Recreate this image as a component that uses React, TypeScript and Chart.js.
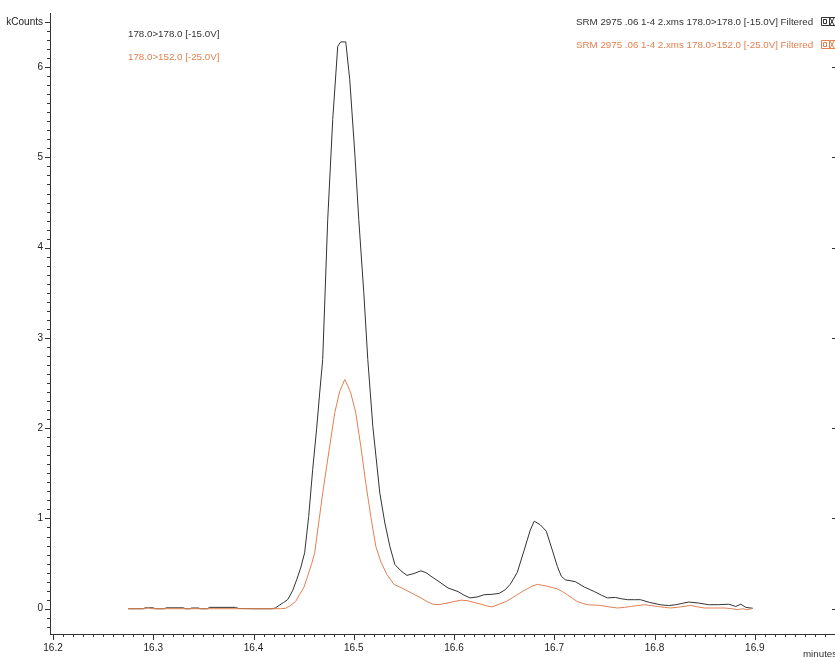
import { useEffect, useRef } from "react"
import { Chart, registerables } from "chart.js"

Chart.register(...registerables)

// 178.0>178.0 [-15.0V] trace (minutes, kCounts)
const quantTime = [
  16.275, 16.29, 16.292, 16.3, 16.302, 16.311, 16.313, 16.33, 16.332, 16.337, 16.338, 16.345, 16.347,
  16.354, 16.356, 16.382, 16.385, 16.4, 16.419, 16.422, 16.426, 16.43, 16.434, 16.439, 16.443, 16.447,
  16.451, 16.455, 16.459, 16.463, 16.466, 16.469, 16.474, 16.479, 16.484, 16.487, 16.492, 16.496, 16.501,
  16.505, 16.51, 16.514, 16.519, 16.526, 16.531, 16.536, 16.541, 16.547, 16.553, 16.56, 16.567, 16.572,
  16.577, 16.585, 16.594, 16.604, 16.61, 16.616, 16.623, 16.63, 16.638, 16.645, 16.651, 16.656, 16.663,
  16.67, 16.676, 16.68, 16.686, 16.692, 16.698, 16.703, 16.707, 16.711, 16.721, 16.73, 16.74, 16.747,
  16.753, 16.761, 16.767, 16.773, 16.78, 16.786, 16.795, 16.806, 16.814, 16.821, 16.828, 16.834, 16.844,
  16.854, 16.864, 16.874, 16.881, 16.886, 16.891, 16.898,
]
const quantCounts = [
  0, 0, 0.01, 0.01, 0, 0, 0.01, 0.01, 0, 0, 0.008, 0.008, 0,
  0, 0.015, 0.015, 0.003, 0, 0, 0.01, 0.04, 0.07, 0.1, 0.2, 0.32, 0.45,
  0.62, 1.02, 1.54, 2.0, 2.39, 2.76, 4.31, 5.42, 6.23, 6.28, 6.28, 5.86, 5.05,
  4.31, 3.5, 2.76, 2.02, 1.28, 0.95, 0.69, 0.49, 0.42, 0.37, 0.39, 0.42, 0.4,
  0.36, 0.3, 0.23, 0.19, 0.15, 0.12, 0.13, 0.155, 0.16, 0.17, 0.21, 0.27, 0.4,
  0.65, 0.87, 0.97, 0.93, 0.86, 0.65, 0.47, 0.36, 0.32, 0.3, 0.24, 0.19, 0.15,
  0.12, 0.125, 0.11, 0.1, 0.1, 0.1, 0.07, 0.044, 0.035, 0.044, 0.06, 0.074, 0.063,
  0.044, 0.045, 0.05, 0.025, 0.05, 0.015, 0.005,
]

// 178.0>152.0 [-25.0V] trace
const qualTime = [
  16.275, 16.292, 16.295, 16.298, 16.32, 16.36, 16.4, 16.427, 16.432, 16.436, 16.442, 16.446, 16.45,
  16.454, 16.458, 16.461, 16.465, 16.469, 16.473, 16.476, 16.481, 16.486, 16.491, 16.494, 16.497, 16.502,
  16.507, 16.512, 16.517, 16.522, 16.527, 16.533, 16.54, 16.547, 16.553, 16.56, 16.567, 16.573, 16.579,
  16.585, 16.592, 16.6, 16.607, 16.613, 16.62, 16.627, 16.633, 16.638, 16.645, 16.652, 16.658, 16.663,
  16.668, 16.673, 16.678, 16.683, 16.688, 16.693, 16.698, 16.703, 16.708, 16.713, 16.718, 16.723, 16.728,
  16.733, 16.74, 16.746, 16.755, 16.763, 16.77, 16.776, 16.783, 16.79, 16.797, 16.803, 16.81, 16.816,
  16.826, 16.836, 16.843, 16.85, 16.86, 16.87, 16.877, 16.883, 16.888, 16.892, 16.897,
]
const qualCounts = [
  0, 0, 0.012, 0, 0, 0, 0, 0, 0.005, 0.03, 0.08, 0.16, 0.23,
  0.36, 0.5, 0.62, 0.95, 1.28, 1.58, 1.8, 2.17, 2.41, 2.54, 2.47, 2.39, 2.17,
  1.8, 1.39, 1.02, 0.69, 0.52, 0.38, 0.27, 0.235, 0.2, 0.16, 0.12, 0.08, 0.05,
  0.045, 0.06, 0.08, 0.095, 0.09, 0.07, 0.05, 0.03, 0.02, 0.05, 0.08, 0.12, 0.155,
  0.19, 0.22, 0.25, 0.27, 0.26, 0.25, 0.235, 0.22, 0.19, 0.155, 0.115, 0.08, 0.06,
  0.044, 0.04, 0.037, 0.02, 0.008, 0.015, 0.025, 0.035, 0.044, 0.035, 0.025, 0.015, 0.008,
  0.02, 0.037, 0.02, 0.008, 0.008, 0.008, 0, -0.01, 0, -0.01, 0,
]

const traceLabels = ["178.0>178.0 [-15.0V]", "178.0>152.0 [-25.0V]"]
const fileLabels = [
  "SRM 2975 .06 1-4 2.xms 178.0>178.0 [-15.0V] Filtered",
  "SRM 2975 .06 1-4 2.xms 178.0>152.0 [-25.0V] Filtered",
]

const DARK = "#333333"
const ORANGE = "rgb(226,128,82)"
const FONT = "'Liberation Sans', Arial, sans-serif"

const isStep = (v: number, step: number) => Math.abs(v / step - Math.round(v / step)) < 1e-6

const decorations = {
  id: "decorations",
  afterDraw(chart: any) {
    const { ctx, chartArea, scales } = chart
    const x = scales.x
    const y = scales.y
    ctx.save()
    ctx.strokeStyle = DARK
    ctx.lineWidth = 1
    ctx.beginPath()
    // x ticks, minor every 0.01, major every 0.1
    x.ticks.forEach((t: any) => {
      const px = Math.round(x.getPixelForValue(t.value)) + 0.5
      const len = isStep(t.value, 0.1) ? 6 : 3
      ctx.moveTo(px, chartArea.bottom)
      ctx.lineTo(px, chartArea.bottom + len)
    })
    // y ticks, minor every 0.1
    y.ticks.forEach((t: any) => {
      if (t.value > 6.55) return
      const py = Math.round(y.getPixelForValue(t.value)) + 0.5
      const major = isStep(t.value, 1) || Math.abs(t.value - 6.5) < 1e-6
      ctx.moveTo(chartArea.left, py)
      ctx.lineTo(chartArea.left - (major ? 5 : 3), py)
      if (isStep(t.value, 1)) {
        ctx.moveTo(chartArea.right - 3, py)
        ctx.lineTo(chartArea.right, py)
      }
    })
    ctx.stroke()

    ctx.font = `9.75px ${FONT}`
    ctx.textBaseline = "middle"
    ctx.textAlign = "left"
    ctx.fillStyle = DARK
    ctx.fillText(traceLabels[0], 128, 34)
    ctx.fillText(fileLabels[0], 576, 22)
    ctx.fillText("minutes", 803, 654)
    ctx.fillStyle = ORANGE
    ctx.fillText(traceLabels[1], 128, 57)
    ctx.fillText(fileLabels[1], 576, 45)

    // little box icons after the file labels
    const icon = (top: number, color: string) => {
      ctx.strokeStyle = color
      ctx.beginPath()
      ctx.rect(821.5, top + 0.5, 8, 8)
      ctx.rect(823.5, top + 2.5, 3, 4)
      ctx.moveTo(829.5, top + 0.5)
      ctx.lineTo(835, top + 0.5)
      ctx.moveTo(829.5, top + 8.5)
      ctx.lineTo(835, top + 8.5)
      ctx.moveTo(830, top + 1)
      ctx.lineTo(834, top + 8)
      ctx.moveTo(834, top + 1)
      ctx.lineTo(830, top + 8)
      ctx.stroke()
    }
    icon(17, DARK)
    icon(40, ORANGE)
    ctx.restore()
  },
}

export default function App() {
  const chartRef = useRef<HTMLCanvasElement>(null)
  const chartInstance = useRef<Chart | null>(null)

  useEffect(() => {
    if (!chartRef.current) return

    if (chartInstance.current) {
      chartInstance.current.destroy()
    }

    Chart.defaults.font.family = FONT

    chartInstance.current = new Chart(chartRef.current, {
      type: "line",
      data: {
        datasets: [
          {
            label: traceLabels[0],
            data: quantTime.map((t, i) => ({ x: t, y: quantCounts[i] })),
            borderColor: DARK,
            borderWidth: 1,
            pointRadius: 0,
            tension: 0,
            order: 1,
          },
          {
            label: traceLabels[1],
            data: qualTime.map((t, i) => ({ x: t, y: qualCounts[i] })),
            borderColor: ORANGE,
            borderWidth: 1,
            pointRadius: 0,
            tension: 0,
            order: 0,
          },
        ],
      },
      options: {
        responsive: false,
        animation: false,
        layout: { padding: { top: 13, right: 0, left: 0, bottom: 0 } },
        plugins: {
          legend: { display: false },
          tooltip: { enabled: false },
        },
        scales: {
          x: {
            type: "linear",
            min: 16.197,
            max: 16.98,
            grid: { display: false, drawTicks: false },
            border: { color: DARK, width: 1 },
            ticks: {
              stepSize: 0.01,
              autoSkip: false,
              maxRotation: 0,
              includeBounds: false,
              padding: 8,
              color: "#222",
              font: { size: 10 },
              callback: (v: any) => (isStep(Number(v), 0.1) ? Number(v).toFixed(1) : ""),
            },
            afterFit: (s: any) => {
              s.height = 24
              s.paddingLeft = 0
              s.paddingRight = 0
            },
          },
          y: {
            min: -0.28,
            max: 6.6,
            grid: { display: false, drawTicks: false },
            border: { color: DARK, width: 1 },
            ticks: {
              stepSize: 0.1,
              autoSkip: false,
              includeBounds: false,
              padding: 7,
              color: "#222",
              font: { size: 10 },
              callback: (v: any) => {
                const n = Number(v)
                if (Math.abs(n - 6.5) < 1e-6) return "kCounts"
                return isStep(n, 1) ? String(Math.round(n)) : ""
              },
            },
            afterFit: (s: any) => {
              s.width = 50
              s.paddingTop = 0
              s.paddingBottom = 0
            },
          },
        },
      },
      plugins: [decorations],
    })

    return () => {
      if (chartInstance.current) {
        chartInstance.current.destroy()
      }
    }
  }, [])

  return (
    <div style={{ position: "fixed", top: 0, left: 0, width: 835, height: 658, background: "#fff" }}>
      <canvas ref={chartRef} width={835} height={658} style={{ display: "block" }} />
    </div>
  )
}
